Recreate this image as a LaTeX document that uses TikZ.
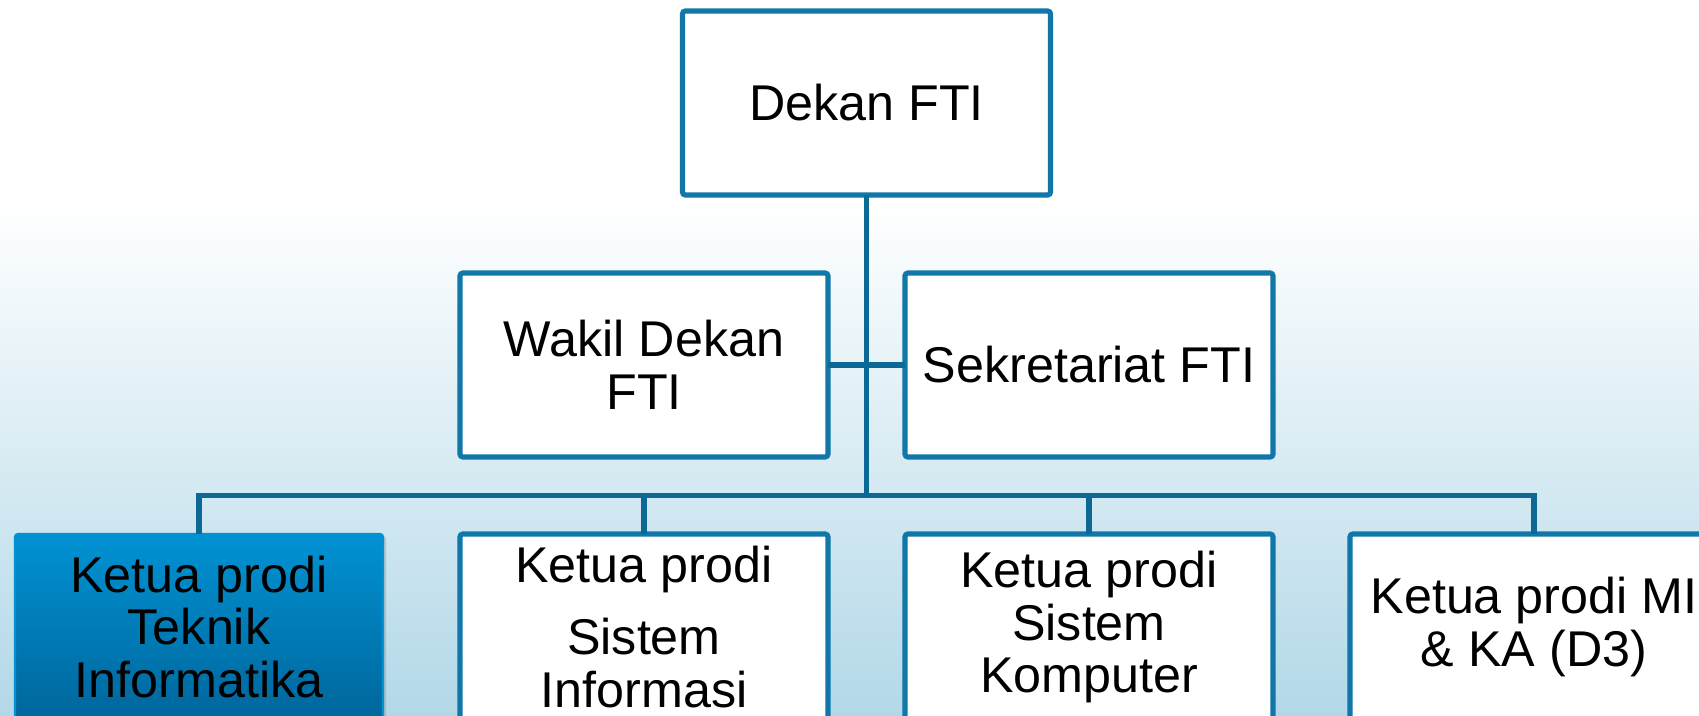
\documentclass[tikz,border=0pt]{standalone}
\usepackage{fontspec}
\setmainfont{Liberation Sans}
\usetikzlibrary{positioning,calc}
\usetikzlibrary{shadows}

\definecolor{lineblue}{RGB}{16,119,168}
\definecolor{connblue}{RGB}{12,104,148}
\definecolor{bgbot}{RGB}{178,216,232}
\definecolor{bgmid}{RGB}{228,240,246}
\definecolor{acttop}{RGB}{1,146,211}
\definecolor{actbot}{RGB}{0,102,156}

\tikzset{
   box/.style={draw=lineblue, line width=1.45pt, fill=white, rounded corners=0.8pt,
      minimum width=3.68cm, minimum height=1.84cm, inner sep=0pt, outer sep=0pt,
      align=center, font=\fontsize{14.3}{15}\selectfont},
   prodi/.style={box, minimum height=1.86cm},
   active/.style={draw=acttop, line width=0.6pt, top color=acttop, bottom color=actbot,
      drop shadow={opacity=0.3, shadow xshift=0.03cm, shadow yshift=-0.02cm}},
   conn/.style={draw=connblue, line width=1.7pt}
}

\begin{document}
\begin{tikzpicture}
   \useasboundingbox (0,0) rectangle (16.99,7.15);
   \clip (0,0) rectangle (16.99,7.15);

   % background
   \fill[white] (0,5.1) rectangle (16.99,7.15);
   \shade[top color=white, middle color=bgmid, bottom color=bgbot]
      (0,0) rectangle (16.99,5.12);

   % top of the chart
   \node[box] (dekan) at (8.665,6.12) {Dekan FTI};
   \node[box, below left=0.78cm and 0.385cm of dekan.south]  (wakil) {Wakil Dekan\\FTI};
   \node[box, below right=0.78cm and 0.385cm of dekan.south] (sekr)  {Sekretariat FTI};

   % study programmes
   \node[prodi, below=0.77cm of wakil]        (si) {Ketua prodi\\[5.5pt]Sistem\\Informasi};
   \node[prodi, below=0.77cm of sekr]         (sk) {Ketua prodi\\Sistem\\Komputer};
   \node[prodi, active, left=0.77cm of si]    (ti) {Ketua prodi\\Teknik\\Informatika};
   \node[prodi, right=0.77cm of sk]           (mi) {Ketua prodi MI\\\& KA (D3)};

   \coordinate (bus) at ($(wakil.south)!0.5!(si.north)$);

   % connectors
   \draw[conn] (dekan) -- (dekan |- bus);
   \draw[conn] (wakil) -- (sekr);
   \draw[conn] (ti.north) -- (ti.north |- bus) -- (mi.north |- bus) -- (mi.north);
   \foreach \p in {si,sk}
      \draw[conn] (\p.north) -- (\p.north |- bus);
\end{tikzpicture}
\end{document}
